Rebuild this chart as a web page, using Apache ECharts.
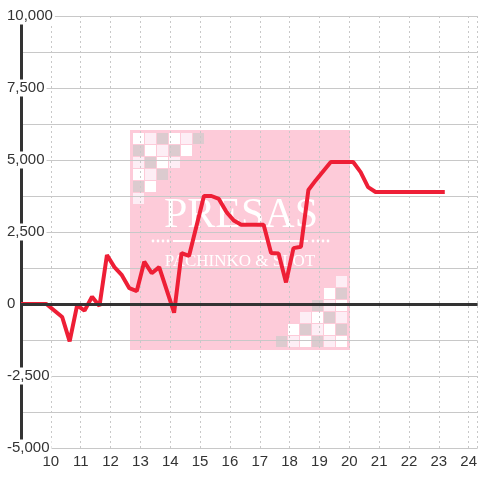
<!DOCTYPE html>
<html><head><meta charset="utf-8">
<script src="https://cdn.jsdelivr.net/npm/echarts@6/dist/echarts.min.js"></script>
<style>html,body{margin:0;padding:0;background:#fff}#c{width:480px;height:480px}</style>
</head><body><div id="c"></div>
<script>
// hour of day
const hours = [9, 9.85, 10.38, 10.63, 10.88, 11.13, 11.38, 11.63, 11.88, 12.13, 12.38, 12.63, 12.88,
  13.13, 13.38, 13.63, 14.13, 14.38, 14.63, 15.13, 15.38, 15.63, 15.88, 16.13, 16.38, 17.13,
  17.38, 17.63, 17.88, 18.13, 18.38, 18.63, 18.88, 19.38, 20.13, 20.38, 20.63, 20.88, 23.2];
// cumulative balance
const balance = [0, 0, -450, -1300, -50, -230, 250, -70, 1700, 1280, 1000, 550, 450,
  1470, 1070, 1280, -300, 1770, 1670, 3750, 3750, 3650, 3200, 2900, 2750, 2750,
  1770, 1750, 750, 1940, 1990, 3960, 4300, 4930, 4930, 4580, 4060, 3890, 3890];
const xMin = 9, xMax = 24.3, xStep = 1;
const yMin = -5000, yMax = 10000, yStep = 2500;
const zeroLine = 0;

const fmt = v => (v < 0 ? '-' : '') + Math.abs(v).toString().replace(/\B(?=(\d{3})+(?!\d))/g, ',');

// watermark decoration
const W = '#ffffff', L = '#fdeef5', G = '#dccbcf';
const pat = [[W, L, G, W, L, G], [G, W, L, G, W], [L, G, W, L], [W, L, G], [G, W], [L]];
const deco = [{type: 'rect', z: -10, shape: {x: 130, y: 130, width: 220, height: 220}, style: {fill: '#fdcbd9'}}];
pat.forEach((row, r) => row.forEach((c, i) => {
  deco.push({type: 'rect', z: -9, shape: {x: 133 + 12 * i, y: 133 + 12 * r, width: 11, height: 11}, style: {fill: c}});
  deco.push({type: 'rect', z: -9, shape: {x: 336 - 12 * i, y: 336 - 12 * r, width: 11, height: 11}, style: {fill: c}});
}));
deco.push({type: 'text', z: -8, style: {text: 'PRESAS', x: 241, y: 237, textAlign: 'center', textVerticalAlign: 'bottom',
  font: '42px "Liberation Serif"', fill: '#fff'}});
deco.push({type: 'line', z: -8, shape: {x1: 173, y1: 241, x2: 308, y2: 241}, style: {stroke: '#fff', lineWidth: 2}});
for (let k = 0; k < 4; k++) {
  deco.push({type: 'circle', z: -8, shape: {cx: 153 + 5 * k, cy: 241, r: 1.4}, style: {fill: '#fff'}});
  deco.push({type: 'circle', z: -8, shape: {cx: 313 + 5 * k, cy: 241, r: 1.4}, style: {fill: '#fff'}});
}
deco.push({type: 'text', z: -8, style: {text: 'PACHINKO & SLOT', x: 240, y: 270, textAlign: 'center', textVerticalAlign: 'bottom',
  font: '17px "Liberation Serif"', fill: '#fff'}});

const chart = echarts.init(document.getElementById('c'));
chart.setOption({
  animation: false,
  grid: {left: 21, right: 0, top: 16, bottom: 32},
  graphic: deco,
  xAxis: {
    type: 'value', min: xMin, max: xMax, interval: xStep,
    axisLine: {show: false, onZero: false}, axisTick: {show: false},
    axisLabel: {color: '#333', fontSize: 15, fontFamily: 'Liberation Sans', margin: 6,
      formatter: v => (v === xMin ? '' : String(v))},
    splitLine: {show: true, lineStyle: {color: '#c8c8c8', type: [2, 3], width: 1}},
    minorSplitLine: {show: false}
  },
  yAxis: [{
    type: 'value', min: yMin, max: yMax, interval: yStep,
    axisLine: {show: true, onZero: false, lineStyle: {color: '#333', width: 3}},
    axisTick: {show: false}, axisLabel: {show: false},
    splitLine: {show: true, lineStyle: {color: '#c8c8c8', width: 1}},
    minorTick: {show: false, splitNumber: 2},
    minorSplitLine: {show: true, lineStyle: {color: '#c8c8c8', width: 1}}
  }, {
    type: 'value', min: yMin, max: yMax, interval: yStep, position: 'left', z: 5,
    axisLine: {show: false, onZero: false}, axisTick: {show: false}, splitLine: {show: false},
    axisLabel: {color: '#333', fontSize: 15, fontFamily: 'Liberation Sans', align: 'left', margin: 14,
      backgroundColor: '#fff', padding: [1, 2, 1, 0], formatter: fmt}
  }],
  series: [{
    type: 'line', xAxisIndex: 0, yAxisIndex: 0, symbol: 'none', z: 1, data: [],
    markLine: {silent: true, symbol: 'none', label: {show: false},
      lineStyle: {color: '#333', width: 3, type: 'solid'}, data: [{yAxis: zeroLine}]}
  }, {
    type: 'line', xAxisIndex: 0, yAxisIndex: 0, symbol: 'none', z: 3,
    data: hours.map((h, i) => [h, balance[i]]),
    lineStyle: {color: '#ee1f36', width: 4}
  }]
});
</script></body></html>
